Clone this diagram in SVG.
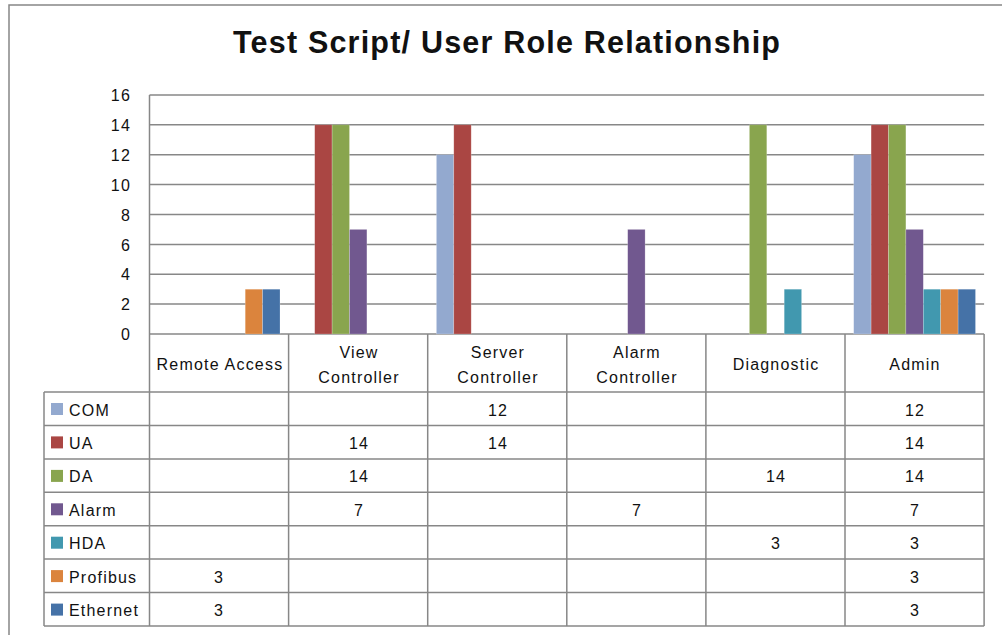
<svg xmlns="http://www.w3.org/2000/svg" width="1002" height="635" viewBox="0 0 1002 635">
<style>
.t{font-family:"Liberation Sans",Arial,sans-serif;font-size:16px;fill:#111;letter-spacing:1.2px}
.c{text-anchor:middle}
.r{text-anchor:end}
.g{stroke:#878787;stroke-width:1.5;fill:none}
.com{fill:#93A9CF}.ua{fill:#AA4643}.da{fill:#89A54E}.al{fill:#71588F}.hda{fill:#4198AF}.pb{fill:#DB843D}.et{fill:#4572A7}
.bar rect{stroke:#ffffff;stroke-opacity:0.35;stroke-width:0.6}
</style>
<rect x="0" y="0" width="1002" height="635" fill="#fff"/>
<rect x="9" y="5" width="1010" height="650" fill="none" stroke="#878787" stroke-width="1.5"/>
<text id="title" x="506.5" y="53" text-anchor="middle" font-family="'Liberation Sans',Arial,sans-serif" font-size="30.5" font-weight="bold" fill="#111" textLength="547" lengthAdjust="spacing">Test Script/ User Role Relationship</text>
<g id="grid" class="g">
<line x1="149.5" y1="95" x2="984.1" y2="95"/>
<line x1="149.5" y1="124.8" x2="984.1" y2="124.8"/>
<line x1="149.5" y1="154.7" x2="984.1" y2="154.7"/>
<line x1="149.5" y1="184.6" x2="984.1" y2="184.6"/>
<line x1="149.5" y1="214.5" x2="984.1" y2="214.5"/>
<line x1="149.5" y1="244.4" x2="984.1" y2="244.4"/>
<line x1="149.5" y1="274.2" x2="984.1" y2="274.2"/>
<line x1="149.5" y1="304.1" x2="984.1" y2="304.1"/>
<line x1="149.5" y1="334" x2="984.1" y2="334"/>
<line x1="149.5" y1="95" x2="149.5" y2="626"/>
</g>
<g id="yaxis" class="t r">
<text x="131" y="101">16</text>
<text x="131" y="131">14</text>
<text x="131" y="161">12</text>
<text x="131" y="191">10</text>
<text x="131" y="221">8</text>
<text x="131" y="251">6</text>
<text x="131" y="280">4</text>
<text x="131" y="310">2</text>
<text x="131" y="340">0</text>
</g>
<g id="bars" class="bar">
<rect class="pb" x="245.2" y="289.2" width="17.4" height="44.8"/>
<rect class="et" x="262.6" y="289.2" width="17.4" height="44.8"/>
<rect class="ua" x="314.7" y="124.8" width="17.4" height="209.2"/>
<rect class="da" x="332.1" y="124.8" width="17.4" height="209.2"/>
<rect class="al" x="349.5" y="229.4" width="17.4" height="104.6"/>
<rect class="com" x="436.4" y="154.7" width="17.4" height="179.3"/>
<rect class="ua" x="453.8" y="124.8" width="17.4" height="209.2"/>
<rect class="al" x="627.7" y="229.4" width="17.4" height="104.6"/>
<rect class="da" x="749.4" y="124.8" width="17.4" height="209.2"/>
<rect class="hda" x="784.2" y="289.2" width="17.4" height="44.8"/>
<rect class="com" x="853.7" y="154.7" width="17.4" height="179.3"/>
<rect class="ua" x="871.1" y="124.8" width="17.4" height="209.2"/>
<rect class="da" x="888.5" y="124.8" width="17.4" height="209.2"/>
<rect class="al" x="905.9" y="229.4" width="17.4" height="104.6"/>
<rect class="hda" x="923.3" y="289.2" width="17.4" height="44.8"/>
<rect class="pb" x="940.7" y="289.2" width="17.4" height="44.8"/>
<rect class="et" x="958.1" y="289.2" width="17.4" height="44.8"/>
</g>
<g id="table-lines" class="g">
<line x1="288.6" y1="334" x2="288.6" y2="626"/>
<line x1="427.7" y1="334" x2="427.7" y2="626"/>
<line x1="566.8" y1="334" x2="566.8" y2="626"/>
<line x1="705.9" y1="334" x2="705.9" y2="626"/>
<line x1="845" y1="334" x2="845" y2="626"/>
<line x1="984.1" y1="334" x2="984.1" y2="626"/>
<line x1="44" y1="392" x2="44" y2="626"/>
<line x1="44" y1="392" x2="984.1" y2="392"/>
<line x1="44" y1="425.4" x2="984.1" y2="425.4"/>
<line x1="44" y1="458.9" x2="984.1" y2="458.9"/>
<line x1="44" y1="492.3" x2="984.1" y2="492.3"/>
<line x1="44" y1="525.7" x2="984.1" y2="525.7"/>
<line x1="44" y1="559.1" x2="984.1" y2="559.1"/>
<line x1="44" y1="592.6" x2="984.1" y2="592.6"/>
<line x1="44" y1="626" x2="984.1" y2="626"/>
</g>
<g id="categories" class="t c">
<text x="220" y="370">Remote Access</text>
<text x="359" y="358">View</text>
<text x="359" y="383">Controller</text>
<text x="498" y="358">Server</text>
<text x="498" y="383">Controller</text>
<text x="637" y="358">Alarm</text>
<text x="637" y="383">Controller</text>
<text x="776" y="370">Diagnostic</text>
<text x="915" y="370">Admin</text>
</g>
<g id="legend">
<rect class="com" x="51" y="403" width="12" height="12"/>
<rect class="ua" x="51" y="436.4" width="12" height="12"/>
<rect class="da" x="51" y="469.9" width="12" height="12"/>
<rect class="al" x="51" y="503.3" width="12" height="12"/>
<rect class="hda" x="51" y="536.7" width="12" height="12"/>
<rect class="pb" x="51" y="570.1" width="12" height="12"/>
<rect class="et" x="51" y="603.6" width="12" height="12"/>
<g class="t">
<text x="69" y="415.5">COM</text>
<text x="69" y="449">UA</text>
<text x="69" y="482.4">DA</text>
<text x="69" y="515.8">Alarm</text>
<text x="69" y="549.2">HDA</text>
<text x="69" y="582.6">Profibus</text>
<text x="69" y="616">Ethernet</text>
</g>
</g>
<g id="values" class="t c">
<text x="498" y="415.5">12</text>
<text x="915" y="415.5">12</text>
<text x="359" y="449">14</text>
<text x="498" y="449">14</text>
<text x="915" y="449">14</text>
<text x="359" y="482.4">14</text>
<text x="776" y="482.4">14</text>
<text x="915" y="482.4">14</text>
<text x="359" y="515.8">7</text>
<text x="637" y="515.8">7</text>
<text x="915" y="515.8">7</text>
<text x="776" y="549.2">3</text>
<text x="915" y="549.2">3</text>
<text x="219" y="582.6">3</text>
<text x="915" y="582.6">3</text>
<text x="219" y="616">3</text>
<text x="915" y="616">3</text>
</g>
</svg>
